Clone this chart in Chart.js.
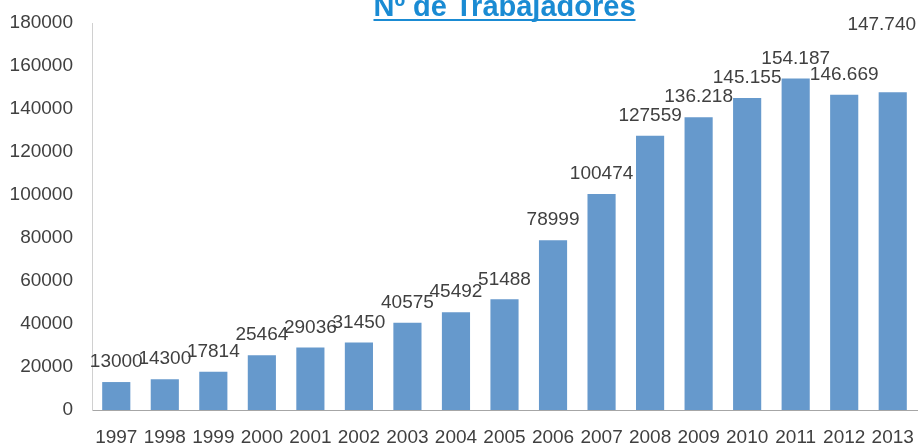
<!DOCTYPE html>
<html>
<head>
<meta charset="utf-8">
<script src="https://cdn.jsdelivr.net/npm/chart.js@4/dist/chart.umd.min.js"></script>
<style>
  html, body { margin: 0; padding: 0; background: #fff; }
  #wrap { width: 921px; height: 445px; position: relative; }
</style>
</head>
<body>
<div id="wrap"><canvas id="workersChart"></canvas></div>
<script>
// chart data
const years = ['1997', '1998', '1999', '2000', '2001', '2002', '2003', '2004', '2005',
  '2006', '2007', '2008', '2009', '2010', '2011', '2012', '2013'];
const workers = [13000, 14300, 17814, 25464, 29036, 31450, 40575, 45492, 51488,
  78999, 100474, 127559, 136218, 145155, 154187, 146669, 147740];
const valueLabels = ['13000', '14300', '17814', '25464', '29036', '31450', '40575', '45492', '51488',
  '78999', '100474', '127559', '136.218', '145.155', '154.187', '146.669', '147.740'];
const yTicks = [0, 20000, 40000, 60000, 80000, 100000, 120000, 140000, 160000, 180000];
const chartTitle = 'Nº de Trabajadores';

const textColor = '#404040';
const barColor = '#6699cc';

// label nudges (the last label sits higher in the original)
const labelNudge = { 16: { dx: -11, dy: -48 } };

const titlePlugin = {
  id: 'cutTitle',
  afterDraw(chart) {
    const { ctx, chartArea } = chart;
    const cx = (chartArea.left + chartArea.right) / 2;
    ctx.save();
    ctx.font = 'bold 29px "Liberation Sans", Arial, sans-serif';
    ctx.fillStyle = '#1a8bd3';
    ctx.textAlign = 'center';
    ctx.textBaseline = 'alphabetic';
    ctx.fillText(chartTitle, cx, 16);
    const w = ctx.measureText(chartTitle).width;
    ctx.fillRect(cx - w / 2, 19, w, 2);
    ctx.restore();
  }
};

const valueLabelPlugin = {
  id: 'valueLabels',
  afterDatasetsDraw(chart) {
    const { ctx } = chart;
    const meta = chart.getDatasetMeta(0);
    ctx.save();
    ctx.font = '19px "Liberation Sans", Arial, sans-serif';
    ctx.fillStyle = textColor;
    ctx.textAlign = 'center';
    ctx.textBaseline = 'middle';
    meta.data.forEach((bar, i) => {
      const n = labelNudge[i] || { dx: 0, dy: 0 };
      ctx.fillText(valueLabels[i], bar.x + n.dx, bar.y - 20 + n.dy);
    });
    ctx.restore();
  }
};

new Chart(document.getElementById('workersChart'), {
  type: 'bar',
  data: {
    labels: years,
    datasets: [{
      label: chartTitle,
      data: workers,
      backgroundColor: barColor,
      borderWidth: 0,
      categoryPercentage: 1,
      barPercentage: 0.58
    }]
  },
  options: {
    responsive: true,
    maintainAspectRatio: false,
    animation: false,
    layout: { padding: { top: 23, right: 4, left: 0, bottom: 0 } },
    plugins: {
      legend: { display: false },
      title: { display: false },
      tooltip: { enabled: false }
    },
    scales: {
      x: {
        grid: { display: false, drawTicks: false },
        border: { display: true, color: '#a6a6a6', width: 1 },
        ticks: {
          color: textColor,
          font: { family: '"Liberation Sans", Arial, sans-serif', size: 19 },
          padding: 16,
          maxRotation: 0,
          autoSkip: false
        },
        afterFit(scale) {
          scale.height = 35;
          scale.paddingLeft = 0;
          scale.paddingRight = 0;
        }
      },
      y: {
        min: 0,
        max: 180000,
        grid: { display: false, drawTicks: false },
        border: { display: true, color: '#d0d0d0', width: 1 },
        afterBuildTicks(scale) { scale.ticks = yTicks.map(v => ({ value: v })); },
        ticks: {
          color: textColor,
          font: { family: '"Liberation Sans", Arial, sans-serif', size: 19 },
          padding: 19,
          callback: (v) => String(v)
        },
        afterFit(scale) {
          scale.width = 92;
          scale.paddingTop = 0;
          scale.paddingBottom = 0;
        }
      }
    }
  },
  plugins: [titlePlugin, valueLabelPlugin]
});
</script>
</body>
</html>
